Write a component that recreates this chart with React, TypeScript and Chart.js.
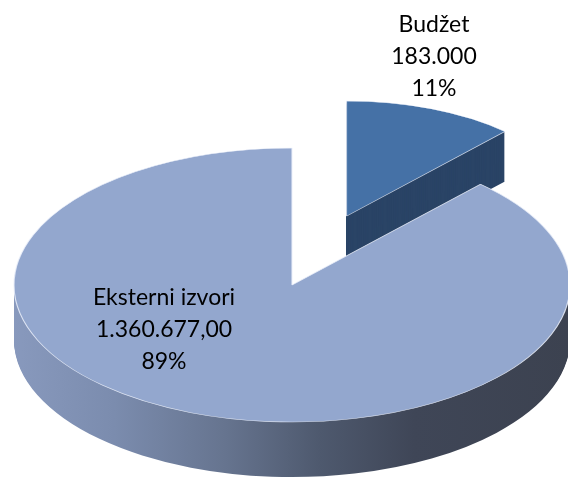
import React, { useEffect, useRef } from "react";
import { Chart, registerables } from "chart.js";

Chart.register(...registerables);

// ---- data ----
const categories = ["Budžet", "Eksterni izvori"];
const values = [183000, 1360677];
const valueLabels = ["183.000", "1.360.677,00"];
const percentLabels = ["11%", "89%"];

// ---- styles ----
const topColors = ["#4571A6", "#93A7CE"];
const budgetSide = "#2A4466";
const explodeDistance = [150, 0]; // pull-out of each slice (unsquashed px)
const perspectiveScale = [0.84, 1]; // far (exploded) slice looks smaller
const sideDepth = [50, 55];
const SQUASH = 0.493;
const FONT = "23px Lato, 'Open Sans', sans-serif";
const labelAnchors = [
  { x: 434, y: 32 },
  { x: 164, y: 305 },
];
const LINE = 32;

const pie3d = {
  id: "pie3d",
  beforeDatasetDraw(chart: any, args: any) {
    const ctx: CanvasRenderingContext2D = chart.ctx;
    const arcs = args.meta.data;
    if (!arcs.length) return false;
    const cx = arcs[0].x;
    const cy = arcs[0].y;
    const r = arcs[0].outerRadius;
    const place = (arc: any, i: number, dy: number) => {
      ctx.translate(0, dy);
      ctx.translate(cx, cy);
      ctx.scale(1, SQUASH);
      const half = (arc.startAngle + arc.endAngle) / 2;
      const d = explodeDistance[i] || 0;
      ctx.translate(Math.cos(half) * d, Math.sin(half) * d);
      const s = perspectiveScale[i] || 1;
      ctx.scale(s, s);
      ctx.translate(-cx, -cy);
    };
    arcs.forEach((arc: any, i: number) => {
      const orig = arc.options;
      let side: any;
      if (i === 0) {
        side = budgetSide;
      } else {
        const g = ctx.createLinearGradient(cx - r, 0, cx + r, 0);
        g.addColorStop(0, "#8899BD");
        g.addColorStop(0.18, "#7B8CAE");
        g.addColorStop(0.38, "#66748F");
        g.addColorStop(0.55, "#4E596E");
        g.addColorStop(0.72, "#3F4657");
        g.addColorStop(1, "#3C4250");
        side = g;
      }
      arc.options = Object.assign({}, orig, {
        backgroundColor: side,
        borderWidth: 0,
      });
      for (let d = sideDepth[i]; d >= 1; d--) {
        ctx.save();
        place(arc, i, d);
        arc.draw(ctx);
        ctx.restore();
      }
      arc.options = orig;
      ctx.save();
      place(arc, i, 0);
      arc.draw(ctx);
      ctx.restore();
    });
    return false;
  },
  afterDraw(chart: any) {
    const ctx: CanvasRenderingContext2D = chart.ctx;
    ctx.save();
    ctx.font = FONT;
    ctx.fillStyle = "#000000";
    ctx.textAlign = "center";
    ctx.textBaseline = "alphabetic";
    categories.forEach((c, i) => {
      const a = labelAnchors[i];
      ctx.fillText(c, a.x, a.y);
      ctx.fillText(valueLabels[i], a.x, a.y + LINE);
      ctx.fillText(percentLabels[i], a.x, a.y + LINE * 2);
    });
    ctx.restore();
  },
};

export default function App() {
  const ref = useRef<HTMLCanvasElement | null>(null);
  useEffect(() => {
    if (!ref.current) return;
    const chart = new Chart(ref.current, {
      type: "pie",
      data: {
        labels: categories,
        datasets: [
          {
            data: values,
            backgroundColor: topColors,
            borderColor: "rgba(235,240,250,0.85)",
            borderWidth: 1.2,
          } as any,
        ],
      },
      options: {
        animation: false,
        responsive: false,
        events: [],
        radius: 278,
        layout: { padding: { left: 16, top: 85, right: 0, bottom: 0 } },
        plugins: {
          legend: { display: false },
          tooltip: { enabled: false },
        },
      } as any,
      plugins: [pie3d as any],
    });
    return () => chart.destroy();
  }, []);
  return (
    <div style={{ position: "absolute", left: 0, top: 0, width: 568, height: 485, background: "#fff" }}>
      <canvas ref={ref} width={568} height={485} style={{ display: "block" }} />
    </div>
  );
}
